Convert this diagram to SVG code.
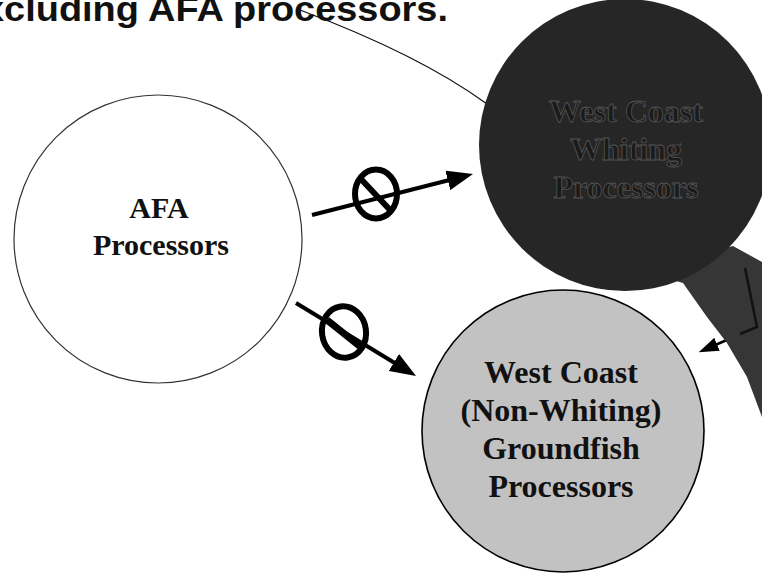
<svg xmlns="http://www.w3.org/2000/svg" width="762" height="574" viewBox="0 0 762 574">
<style>
.title{font-family:"Liberation Sans",Arial,sans-serif;font-weight:bold;font-size:35px;fill:#111}
.lbl{font-family:"Liberation Serif","Times New Roman",serif;font-weight:bold;font-size:32px;text-anchor:middle;fill:#111}
.dlbl{font-family:"Liberation Serif","Times New Roman",serif;font-weight:bold;font-size:32px;text-anchor:middle;fill:#1a1a1a;stroke:#555;stroke-width:0.8}
.arrow{stroke:#000;stroke-width:4;fill:none}
.no{stroke:#000;stroke-width:6;fill:none}
</style>
<defs>
<marker id="ah" viewBox="0 0 26 20" refX="16" refY="10" markerWidth="26" markerHeight="20" markerUnits="userSpaceOnUse" orient="auto">
<path d="M0,0 L26,10 L0,20 Z" fill="#000"/>
</marker>
<marker id="ahs" viewBox="0 0 20 14" refX="12" refY="7" markerWidth="20" markerHeight="14" markerUnits="userSpaceOnUse" orient="auto">
<path d="M0,0 L20,7 L0,14 Z" fill="#000"/>
</marker>
</defs>
<rect width="762" height="574" fill="#fff"/>
<text class="title" x="-17" y="21" textLength="465" lengthAdjust="spacingAndGlyphs">xcluding AFA processors.</text>
<g id="connectors">
<path d="M300,10 Q420,55 487,104" stroke="#111" stroke-width="1.3" fill="none"/>
<line class="arrow" x1="312" y1="215" x2="463.3" y2="176.5" marker-end="url(#ah)"/>
<line class="arrow" x1="296" y1="303" x2="407.5" y2="370.8" marker-end="url(#ah)"/>
<line x1="327" y1="320" x2="362" y2="348" stroke="#000" stroke-width="7"/>
<path d="M757,327 L706,349" stroke="#000" stroke-width="2.5" fill="none" marker-end="url(#ahs)"/>
</g>
<g id="no1">
<ellipse class="no" cx="376" cy="194" rx="21" ry="24.5"/>
<line x1="360" y1="178" x2="391" y2="211" stroke="#000" stroke-width="6"/>
</g>
<g id="no2">
<ellipse class="no" cx="344" cy="332" rx="22" ry="25.7" transform="rotate(-8 344 332)"/>
</g>
<g id="afa">
<circle cx="158" cy="239" r="144" fill="#fff" stroke="#333" stroke-width="1.2"/>
<text class="lbl" x="159" y="218" style="font-size:30px">AFA</text>
<text class="lbl" x="161" y="255" style="font-size:30px">Processors</text>
</g>
<g id="band">
<path d="M640,270 L683,283 L707,317 L727,343 L747,377 L762,417 L762,262 L733,246 Z" fill="#363636"/>
<path d="M745,268 L757,327 L740,334" stroke="#111" stroke-width="2.5" fill="none"/>
</g>
<g id="whiting">
<circle cx="625" cy="145" r="146" fill="#262626"/>
<text class="dlbl" x="626" y="122">West Coast</text>
<text class="dlbl" x="626" y="160">Whiting</text>
<text class="dlbl" x="626" y="198">Processors</text>
</g>
<g id="groundfish">
<circle cx="563" cy="431" r="141" fill="#c2c2c2" stroke="#000" stroke-width="1.6"/>
<text class="lbl" x="561" y="383">West Coast</text>
<text class="lbl" x="561" y="421">(Non-Whiting)</text>
<text class="lbl" x="561" y="459">Groundfish</text>
<text class="lbl" x="561" y="497">Processors</text>
</g>
</svg>
